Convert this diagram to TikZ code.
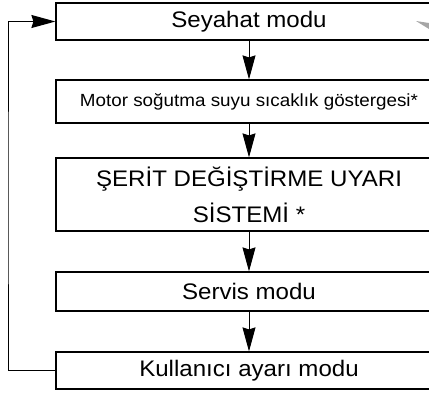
\documentclass[tikz,border=0pt]{standalone}
\usepackage{fontspec}
\setmainfont{Liberation Sans}[FakeStretch=1.07]
\usetikzlibrary{arrows.meta}
\begin{document}
\begin{tikzpicture}[x=1pt, y=-1pt, every node/.style={font=\fontsize{22.5}{36}\selectfont},
  box/.style={draw,line width=1.2pt,minimum width=386pt,inner sep=0pt,align=center},
  arr/.style={-{Stealth[length=24pt,width=13pt,inset=2pt]},line width=1pt}]
\useasboundingbox (0,0) rectangle (429,392);
\clip (0,0) rectangle (429,392);
\node[box,minimum height=37pt] (seyahat) at (249,21.5) {Seyahat modu};
\node[box,minimum height=43pt,font=\fontsize{17.6}{20}\selectfont] (motor) at (249,101.5) {Motor soğutma suyu sıcaklık göstergesi*};
\node[box,minimum height=73pt] (serit) at (249,194.5) {ŞERİT DEĞİŞTİRME UYARI\\SİSTEMİ *};
\node[box,minimum height=39pt] (servis) at (249,291.5) {Servis modu};
\node[box,minimum height=37pt] (kullanici) at (249,370.5) {Kullanıcı ayarı modu};
\coordinate (loop) at (8,200);
\draw[arr] (seyahat) -- (motor);
\draw[arr] (motor) -- (serit);
\draw[arr] (serit) -- (servis);
\draw[arr] (servis) -- (kullanici);
\draw[arr] (kullanici.west) -| (loop) |- (seyahat.west);
% grey mark at the top right
\fill[black!35] (416,21) -- (429,23) -- (429,29) -- cycle;
\end{tikzpicture}
\end{document}
